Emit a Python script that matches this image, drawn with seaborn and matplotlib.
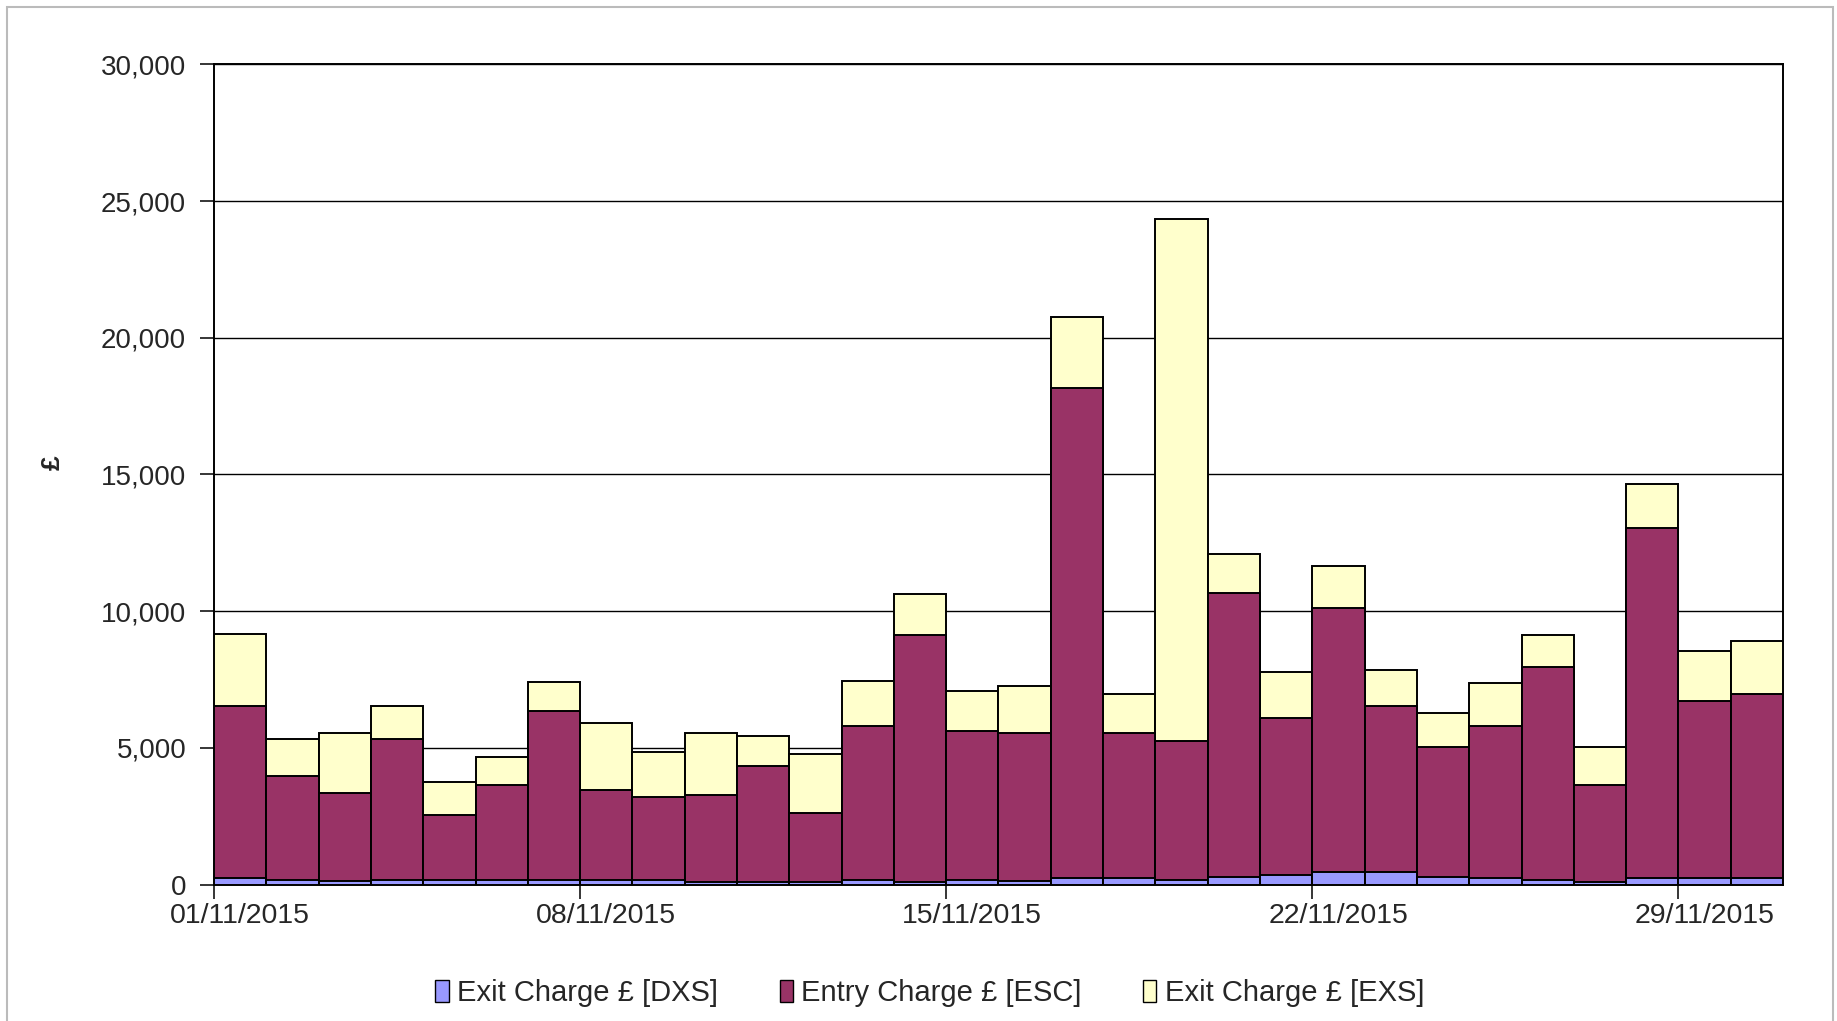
import matplotlib
matplotlib.use("Agg")
import matplotlib.pyplot as plt
import seaborn as sns
import pandas as pd
from matplotlib.patches import Rectangle, Patch
from matplotlib.ticker import FuncFormatter, FixedLocator

# ---- data ----
days = [f"{d:02d}/11/2015" for d in range(1, 31)]
dxs = [220, 160, 110, 170, 170, 170, 170, 170, 170, 100,
       100, 100, 150, 90, 160, 110, 230, 230, 160, 290,
       340, 450, 450, 290, 230, 160, 90, 230, 230, 230]
esc = [6310, 3810, 3220, 5140, 2390, 3460, 6190, 3280, 3040, 3160,
       4230, 2510, 5640, 9020, 5450, 5440, 17940, 5320, 5100, 10380,
       5750, 9660, 6090, 4750, 5560, 7790, 3540, 12800, 6490, 6730]
exs = [2650, 1340, 2210, 1230, 1190, 1050, 1060, 2450, 1640, 2280,
       1100, 2170, 1640, 1520, 1470, 1700, 2580, 1410, 19090, 1420,
       1700, 1550, 1310, 1220, 1580, 1180, 1400, 1630, 1830, 1930]
tick_days = ["01/11/2015", "08/11/2015", "15/11/2015", "22/11/2015", "29/11/2015"]
series_names = ["Exit Charge £ [DXS]", "Entry Charge £ [ESC]", "Exit Charge £ [EXS]"]
colors = ["#9999FF", "#993366", "#FFFFCC"]

df = pd.DataFrame({"day": days, "DXS": dxs, "ESC": esc, "EXS": exs})
df["top_dxs"] = df["DXS"]
df["top_esc"] = df["DXS"] + df["ESC"]
df["top_exs"] = df["top_esc"] + df["EXS"]

sns.set_style("white")
plt.rcParams["font.family"] = ["Liberation Sans", "DejaVu Sans"]

fig = plt.figure(figsize=(18.37, 10.21), dpi=100)
ax = fig.add_axes([214 / 1837, 1 - 884.5 / 1021, (1783 - 214) / 1837, (884.5 - 64.4) / 1021])

for col, c in [("top_exs", colors[2]), ("top_esc", colors[1]), ("top_dxs", colors[0])]:
    sns.barplot(data=df, x="day", y=col, order=days, color=c, saturation=1,
                width=1.0, edgecolor="black", linewidth=1.4, ax=ax, zorder=3)

ax.set_xlim(-0.5, len(days) - 0.5)
ax.set_ylim(0, 30000)
ax.yaxis.set_major_locator(FixedLocator([0, 5000, 10000, 15000, 20000, 25000, 30000]))
ax.yaxis.set_major_formatter(FuncFormatter(lambda v, p: f"{v:,.0f}"))
ax.grid(axis="y", color="black", linewidth=1.0, zorder=0)
ax.set_axisbelow(True)

pos = [days.index(d) for d in tick_days]
ax.set_xticks(pos)
ax.set_xticklabels(tick_days)
ax.set_xticks([p - 0.5 for p in pos], minor=True)
ax.tick_params(axis="x", which="major", length=0, pad=13, labelsize=20.5)
ax.tick_params(axis="x", which="minor", length=10, width=1.3, direction="out", bottom=True)
ax.tick_params(axis="y", which="major", length=10, width=1.3, direction="out", left=True,
               pad=10, labelsize=20)
ax.set_xlabel("")
ax.set_ylabel("")
for s in ax.spines.values():
    s.set_visible(True)
    s.set_color("black")
    s.set_linewidth(1.4)

fig.text(53 / 1837, 1 - 463 / 1021, "£", rotation=90, fontsize=19, fontweight="bold",
         ha="center", va="center")

handles = [Patch(facecolor=c, edgecolor="black", linewidth=1.0) for c in colors]
fig.legend(handles, series_names, loc="center", bbox_to_anchor=(930 / 1837, 1 - 993 / 1021),
           ncol=3, frameon=False, handlelength=0.45, handleheight=0.75,
           handletextpad=0.3, columnspacing=2.1,
           prop={"family": ["Liberation Sans Narrow", "Liberation Sans"], "size": 21})

fig.patches.append(Rectangle((7 / 1837, -0.05), (1833 - 7) / 1837, 1.05 - 7 / 1021,
                             transform=fig.transFigure, fill=False,
                             edgecolor="#BBBBBB", linewidth=1.5))

fig.savefig("out.png", dpi=100, facecolor="white")
